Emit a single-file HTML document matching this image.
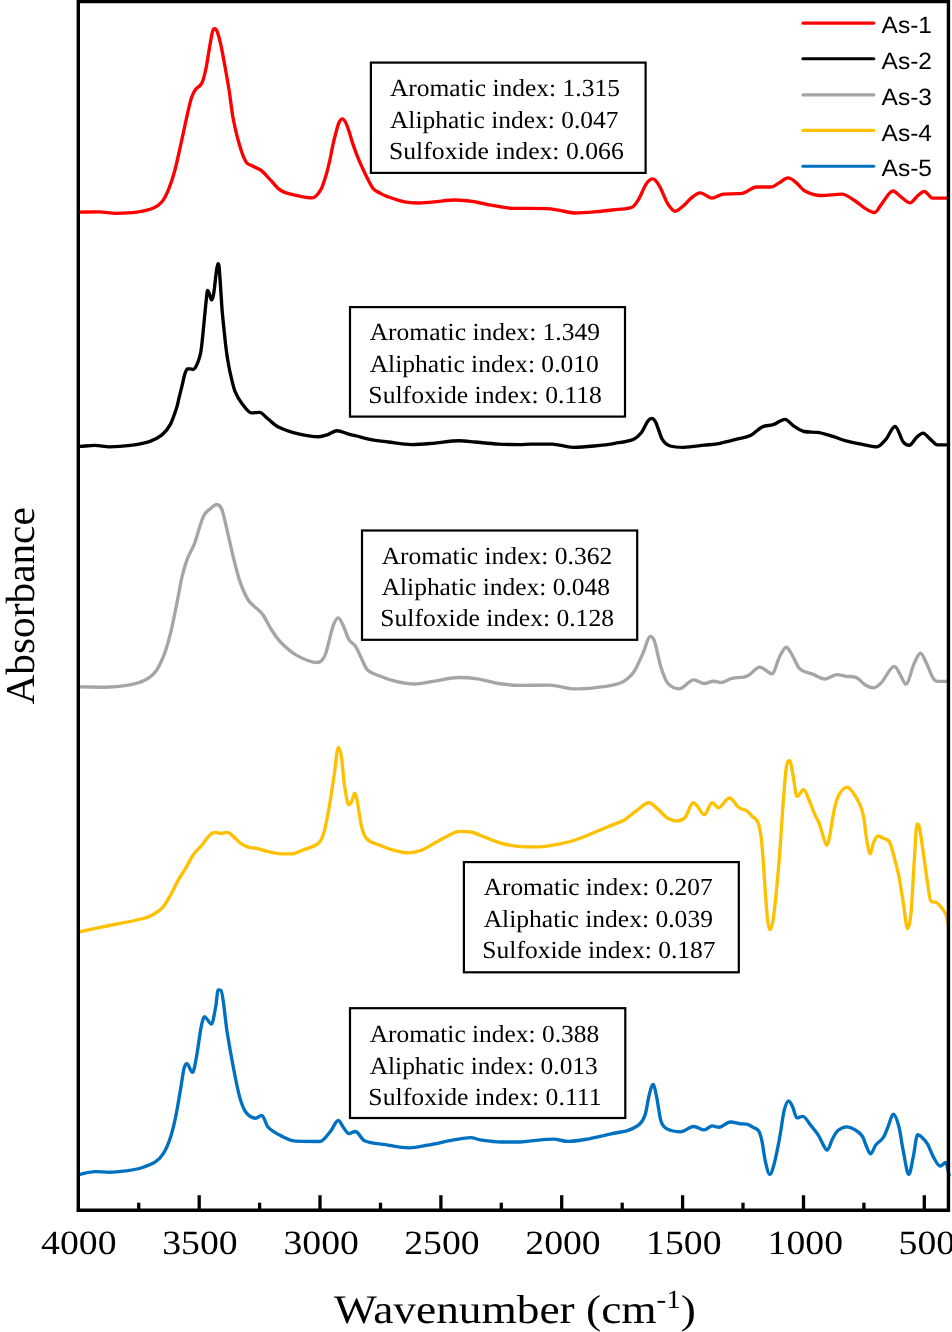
<!DOCTYPE html>
<html><head><meta charset="utf-8"><style>
html,body{margin:0;padding:0;background:#fff;}
body{width:952px;height:1332px;overflow:hidden;}
svg{display:block;will-change:transform;text-rendering:geometricPrecision;}
.serif{font-family:"Liberation Serif",serif;}
.sans{font-family:"Liberation Sans",sans-serif;}
</style></head><body>
<svg width="952" height="1332" viewBox="0 0 952 1332">
<rect width="952" height="1332" fill="#fff"/>
<g fill="none" stroke-width="3.35" stroke-linejoin="round" stroke-linecap="round">
<path d="M80.1 212.2C86.4 212.1 92.7 211.8 99 211.8C104.6 211.8 110.2 213.3 115.8 213.3C122.8 213.3 129.8 213.2 136.8 212.2C142.4 211.4 148 210.3 153.6 208C156.4 206.8 159.2 205.1 162 201.7C164.1 199.2 166.2 195.3 168.3 190.2C170.4 185.1 172.5 179 174.6 171.3C176.7 163.6 178.8 153.4 180.9 144C183 134.5 185.2 123.8 187.3 114.5C188.7 108.4 190.1 101.9 191.5 97.7C192.9 93.5 194.3 91.3 195.7 89.3C197.3 87.1 198.8 87.1 200.4 85.1C201.3 84 202.2 82.7 203.1 79.9C204.1 76.7 205.2 72.5 206.2 67.3C207.3 62 208.3 54.4 209.4 48.4C210.4 42.5 211.5 35.5 212.5 31.6C213.2 28.9 213.9 28.6 214.6 28.6C215.5 28.6 216.3 29.3 217.2 31.6C218.4 34.8 219.7 39.6 220.9 45.2C222.3 51.5 223.7 59.6 225.1 67.3C226.5 75 227.9 82.5 229.3 91.4C230.5 99.3 231.8 111.3 233 117.7C235.3 129.5 237.5 138.3 239.8 146C241.9 153 243.9 158.5 246 161.8C248.1 165.2 250.3 164.8 252.4 166C255.2 167.6 258 168.1 260.8 170.2C263.6 172.3 266.4 175.7 269.2 178.6C273 182.4 276.7 188 280.5 190.3C286.1 193.7 291.7 194.3 297.3 195.6C302.3 196.8 307.2 197.9 312.2 197.9C315.1 197.9 318.1 194.3 321 189.4C322.7 186.5 324.5 180.4 326.2 174.7C327.4 170.6 328.7 165.5 329.9 160C330.9 155.7 331.8 149.7 332.8 145.3C333.8 140.9 334.7 137.1 335.7 133.5C336.8 129.5 337.9 124.9 339 122.5C340.1 120 341.3 118.8 342.4 118.8C343.4 118.8 344.3 120 345.3 121.8C346.5 124.1 347.8 127.7 349 131.3C350.2 134.8 351.4 139.5 352.6 143.1C354.1 147.6 355.6 151.8 357.1 155.6C358.6 159.4 360 162.7 361.5 165.9C363.5 170.3 365.4 174.6 367.4 178.4C369.3 182.2 371.3 186.4 373.2 188.7C375.5 191.3 377.7 191.9 380 193.1C382.5 194.5 385.1 195.7 387.6 196.6C393.2 198.6 398.9 200.7 404.5 201.9C408.7 202.8 412.8 203 417 203C422.6 203 428.3 202.3 433.9 201.9C440.9 201.3 447.9 200 454.9 200C461.9 200 468.8 201 475.8 202C481 202.7 486.3 204.3 491.5 205.2C498.5 206.4 505.5 208.2 512.5 208.3C523.9 208.5 535.3 208.4 546.7 208.6C551.1 208.7 555.4 209.7 559.8 210.4C565 211.2 570.3 213 575.5 213C582.5 213 589.6 212.3 596.6 211.7C603.6 211.1 610.6 210.2 617.6 209.4C622.4 208.9 627.2 209.3 632 207.3C634.2 206.4 636.4 203 638.6 199.4C641.2 195.1 643.8 187.3 646.4 183.6C648.6 180.5 650.8 178.9 653 178.9C655.2 178.9 657.4 182.6 659.6 186.3C662.2 190.7 664.9 199.1 667.5 203.3C670.1 207.4 672.7 211.2 675.3 211.2C677.9 211.2 680.6 208.2 683.2 206C685.8 203.8 688.5 200.1 691.1 198.1C694.2 195.7 697.2 192.8 700.3 192.8C704.1 192.8 708 198.1 711.8 198.1C715.7 198.1 719.7 194.4 723.6 194.1C729.7 193.7 735.9 194 742 193.4C746.8 193 751.7 187 756.5 187C761.3 187 766.1 187 770.9 187C773.5 187 776.2 184.5 778.8 183.1C781.9 181.5 784.9 177.9 788 177.9C790.6 177.9 793.3 180.3 795.9 182.3C798.9 184.6 802 189.4 805 191C810.3 193.8 815.5 195.5 820.8 195.5C827.8 195.5 834.8 194.1 841.8 194.1C846.2 194.1 850.5 198 854.9 200.7C858.4 202.9 861.9 206.5 865.4 208.6C868.5 210.4 871.5 212.5 874.6 212.5C876.8 212.5 879 207.2 881.2 204.6C885.1 200 889.1 191 893 191C895.6 191 898.3 195 900.9 196.8C904 198.9 907 202.8 910.1 202.8C912.7 202.8 915.4 197.6 918 195.5C920.2 193.8 922.3 191.5 924.5 191.5C927.1 191.5 929.8 198.1 932.4 198.1C937.7 198.1 942.9 198.1 948.2 198.1" stroke="#FF0000"/>
<path d="M80.1 446.4C85 446.1 89.9 445.4 94.8 445.4C99.7 445.4 104.6 446.8 109.5 446.8C116.5 446.8 123.5 446.3 130.5 445.4C136.8 444.6 143.1 443.7 149.4 441.6C153.6 440.2 157.8 438.3 162 434.9C164.8 432.6 167.6 429.6 170.4 424.4C172.5 420.5 174.6 414 176.7 407.6C177.4 405.5 178.1 401.7 178.8 398.8C180 393.7 181.3 388.9 182.5 383.8C183.3 380.6 184 376.4 184.8 374.1C185.7 371.4 186.5 368.8 187.4 368.8C188.3 368.8 189.1 368.8 190 368.8C191 368.8 192 369.5 193 369.5C194 369.5 195 368.2 196 366.5C197 364.8 198 362.1 199 359C199.6 357.1 200.3 355.1 200.9 351.5C201.3 349.1 201.8 344.9 202.2 341C202.7 336.4 203.2 331.1 203.7 326C204.5 317.5 205.4 308 206.2 300.4C206.7 296.1 207.1 290.4 207.6 290.4C208.2 290.4 208.8 292.6 209.4 294.1C210.1 295.8 210.8 299.9 211.5 299.9C212.2 299.9 212.9 298.1 213.6 294.1C214.5 289.2 215.3 279.4 216.2 273.1C216.7 269.2 217.3 263.7 217.8 263.7C218.1 263.7 218.5 263.7 218.8 264.7C219.3 266.1 219.7 275.1 220.2 281.5C220.8 289.8 221.4 301 222 308.8C222.5 315.7 223.1 320.4 223.6 325.6C224.5 334 225.3 342.7 226.2 349.5C227 355.8 227.8 360.6 228.6 365C229.6 370.3 230.5 374.6 231.5 378.6C232.7 383.4 233.8 388.5 235 391.3C237.3 396.8 239.6 400.4 241.9 403.4C245 407.5 248.2 412.8 251.3 412.8C254.1 412.8 256.9 412.4 259.7 412.4C262.2 412.4 264.6 416.1 267.1 418.1C270.7 420.9 274.3 424.9 277.9 426.8C284 430 290.2 431.8 296.3 433.3C303.7 435.1 311.2 436.7 318.6 436.7C321.7 436.7 324.7 435.6 327.8 434.6C330.9 433.6 333.9 430.7 337 430.7C340.9 430.7 344.9 433 348.8 434.1C351.4 434.8 354.1 435.3 356.7 436C361.1 437.1 365.4 438.6 369.8 439.4C375.9 440.6 382.1 441.2 388.2 442C396.1 443 403.9 444.6 411.8 444.6C418.8 444.6 425.8 443.9 432.8 443.3C441.6 442.6 450.3 440.7 459.1 440.7C464.3 440.7 469.6 441.5 474.8 442C482.7 442.7 490.6 443.6 498.5 444.1C505.5 444.5 512.5 444.6 519.5 444.6C523.3 444.6 527.2 444.1 531 444.1C538 444.1 545 444.1 552 444.1C559 444.1 566 447.3 573 447.3C580 447.3 587 446.7 594 446C601 445.3 608 444.5 615 443.3C621.1 442.3 627.3 441.8 633.4 439.4C636 438.3 638.7 436.1 641.3 432.8C643.5 430 645.7 424 647.9 421C649.2 419.2 650.5 418.4 651.8 418.4C653.1 418.4 654.4 419.7 655.7 422.3C657.9 426.7 660.1 435.8 662.3 439.4C664.9 443.7 667.6 445.2 670.2 446C674.6 447.3 678.9 447.3 683.3 447.3C690.3 447.3 697.3 446 704.3 445.2C709.6 444.6 714.8 444.3 720.1 443.3C725.3 442.3 730.6 440.8 735.8 439.4C740.9 438.1 745.9 437.7 751 435.3C754.7 433.5 758.4 428.7 762.1 426.9C765.8 425.1 769.4 425.9 773.1 424.7C777.1 423.4 781.2 419.4 785.2 419.4C787.8 419.4 790.3 423.7 792.9 425.4C796.6 427.8 800.3 430.8 804 431.5C808.4 432.3 812.8 431.9 817.2 432.4C822.4 432.9 827.5 434.9 832.7 436.4C837.1 437.7 841.5 439.6 845.9 440.8C851 442.2 856.2 443.1 861.3 444.1C866.5 445.1 871.6 446.8 876.8 446.8C879.7 446.8 882.7 443 885.6 439.7C888.8 436.2 891.9 426.5 895.1 426.5C897.8 426.5 900.5 438.4 903.2 441.9C905.3 444.6 907.3 445.2 909.4 445.2C911.8 445.2 914.1 439.6 916.5 437.5C918.7 435.6 920.9 433.1 923.1 433.1C925.3 433.1 927.5 436.8 929.7 438.6C932.3 440.7 934.8 444.8 937.4 444.8C940.4 444.8 943.3 444.8 946.3 444.8" stroke="#000000"/>
<path d="M80.1 686.8C88.5 686.9 96.9 687.2 105.3 687.2C113 687.2 120.7 686.5 128.4 685.1C134 684.1 139.6 682.7 145.2 679.9C148.7 678.2 152.2 676.2 155.7 671.5C158.5 667.8 161.3 661.9 164.1 654.7C166.2 649.3 168.3 642.1 170.4 633.7C172.5 625.3 174.6 614.5 176.7 604.2C178.5 595.5 180.2 584.5 182 576.9C183.7 569.5 185.5 563.7 187.2 559.1C189.7 552.5 192.1 549.7 194.6 543.3C196.3 538.8 198.1 531.7 199.8 526.5C201.2 522.2 202.7 517.4 204.1 515C206.2 511.5 208.3 510.4 210.4 508.7C212.5 506.9 214.6 504.5 216.7 504.5C218.4 504.5 220.2 505.4 221.9 509.7C223.7 514.1 225.4 523.3 227.2 530.7C229.3 539.4 231.4 549.6 233.5 558C235.6 566.4 237.7 575.1 239.8 581.1C242.6 589.1 245.4 595.5 248.2 600C251 604.5 253.8 605.6 256.6 608.4C258.7 610.5 260.8 611.7 262.9 614.7C265.7 618.7 268.5 625.2 271.3 629.5C274.4 634.3 277.4 638.9 280.5 642C285.8 647.4 291 652.2 296.3 655.1C303.3 659 310.3 662.5 317.3 662.5C319.9 662.5 322.5 661.1 325.1 655.1C327.7 649 330.4 633.7 333 626.3C334.8 621.3 336.5 617.9 338.3 617.9C340 617.9 341.8 622.8 343.5 626.3C345.3 629.9 347 636.5 348.8 639.4C351 643 353.1 642.9 355.3 646C357.1 648.6 358.8 653 360.6 656.5C362.8 660.9 365 667.4 367.2 669.6C371.6 674 375.9 674.4 380.3 676.2C385.5 678.3 390.8 680.2 396 681.4C402.1 682.8 408.3 684 414.4 684C420.5 684 426.7 682.3 432.8 681.4C441.6 680.1 450.3 677.5 459.1 677.5C465.2 677.5 471.4 677.9 477.5 678.8C484.5 679.9 491.5 682.4 498.5 683.5C505.5 684.6 512.5 685.3 519.5 685.3C529.5 685.3 539.4 685.1 549.4 685.1C557.3 685.1 565.1 688.8 573 688.8C580 688.8 587 688.7 594 687.8C602.8 686.7 611.5 686.4 620.3 683C624.7 681.3 629 678.2 633.4 672.5C636.5 668.5 639.5 660.6 642.6 654.1C645.2 648.5 647.9 636.3 650.5 636.3C651.8 636.3 653.1 637.2 654.4 641C656.6 647.5 658.8 660.3 661 667.3C663.2 674.3 665.4 680.4 667.6 683C671.5 687.6 675.5 688.8 679.4 688.8C684.2 688.8 689 679.9 693.8 679.9C697.3 679.9 700.8 683.5 704.3 683.5C707.4 683.5 710.4 681.2 713.5 681.2C716.1 681.2 718.8 682.5 721.4 682.5C724.9 682.5 728.4 679.1 731.9 678.3C735.8 677.4 739.8 677.9 743.7 677.2C745.4 676.9 747.1 676.3 748.8 675.2C752.5 672.9 756.2 667.1 759.9 667.1C763.9 667.1 768 673.7 772 673.7C774.6 673.7 777.1 661.3 779.7 656.5C781.9 652.4 784.1 647.2 786.3 647.2C788.1 647.2 790 651.4 791.8 654.3C794.4 658.5 797 666.1 799.6 668.6C804 672.7 808.4 672.3 812.8 674.1C816.8 675.8 820.9 679 824.9 679C829 679 833 674.6 837.1 674.6C840 674.6 843 676 845.9 676.3C849.2 676.6 852.5 676.4 855.8 677.4C859.1 678.4 862.4 683.3 865.7 685.2C868.3 686.7 870.9 687.8 873.5 687.8C876.1 687.8 878.6 685.5 881.2 682.9C885.6 678.4 890 666.4 894.4 666.4C896.6 666.4 898.8 672.9 901 676.3C902.6 678.8 904.3 684 905.9 684C908.7 684 911.5 669 914.3 663.1C916.4 658.7 918.4 653.2 920.5 653.2C922.5 653.2 924.4 659.3 926.4 663.1C929 668.1 931.5 676.5 934.1 679.6C935.6 681.4 937 681.4 938.5 681.4C941.5 681.4 944.4 681.4 947.4 681.4" stroke="#A5A5A5"/>
<path d="M80.1 931.6C86.4 930.3 92.7 928.9 99 927.6C106 926.2 113 924.8 120 923.4C127 922 134 920.8 141 919C144.5 918.1 148 917.2 151.5 915.4C155 913.6 158.5 911.8 162 908.1C164.8 905.2 167.6 900.3 170.4 895.5C172.9 891.2 175.3 885.2 177.8 880.8C180.2 876.4 182.7 873.3 185.1 869.2C187.9 864.5 190.7 858.5 193.5 854.5C196.3 850.4 199.2 848.4 202 845C204.4 842.1 206.9 838 209.3 835.6C211.1 833.8 212.8 832.4 214.6 832.4C216.7 832.4 218.8 833.5 220.9 833.5C223 833.5 225.1 832.4 227.2 832.4C229.3 832.4 231.4 834.9 233.5 836.6C235.9 838.6 238.4 841.7 240.8 843.4C243.3 845.2 245.7 846.3 248.2 847.1C251 848 253.8 847.8 256.6 848.4C260.1 849.2 263.6 850.5 267.1 851.3C271.6 852.3 276 853.9 280.5 853.9C284 853.9 287.5 853.9 291 853.9C295.2 853.9 299.4 851.3 303.6 849.7C308.5 847.8 313.4 847.4 318.3 843.4C320.1 842 321.8 839.2 323.6 833.5C325.3 827.9 327.1 818.8 328.8 809.3C330.6 799.6 332.3 787.2 334.1 775.7C335.5 766.6 336.9 747.4 338.3 747.4C339.3 747.4 340.4 750.4 341.4 756.8C342.5 763.4 343.5 779.3 344.6 786.2C346 795.3 347.4 804.7 348.8 804.7C349.8 804.7 350.9 802.9 351.9 800.9C352.8 799.1 353.8 793.2 354.7 793.2C355.5 793.2 356.4 796.8 357.2 800.9C358.6 807.8 360 820.5 361.4 826.1C363.1 833.1 364.9 836.9 366.6 838.7C370.8 843.2 375 843.2 379.2 845C384.1 847.1 389.1 849 394 850.3C398.9 851.6 403.8 852.8 408.7 852.8C412.9 852.8 417.1 851.9 421.3 850.3C426.2 848.4 431.1 844.9 436 842.3C440.2 840 444.4 837.6 448.6 835.6C452.1 833.9 455.6 831.4 459.1 831.4C463.1 831.4 467 831.4 471 832C475.7 832.7 480.5 835.7 485.2 837.4C491.5 839.7 497.8 842.6 504.1 844C511.5 845.7 518.8 846.8 526.2 846.8C530.4 846.8 534.6 846.8 538.8 846.8C544 846.8 549.3 845.9 554.5 844.9C560.8 843.8 567.2 842.5 573.5 840.5C580.8 838.2 588.2 834.9 595.5 832C601.8 829.5 608.1 826.7 614.4 824.1C617.6 822.8 620.7 822.2 623.9 820.3C628.1 817.7 632.3 813.5 636.5 810.6C640.7 807.7 644.9 802.7 649.1 802.7C651.7 802.7 654.4 806.2 657 808.4C660.7 811.4 664.3 816.1 668 818.4C671.2 820.3 674.3 821 677.5 821C680.1 821 682.7 820.2 685.3 817.2C687.9 814.1 690.6 802.7 693.2 802.7C694.8 802.7 696.3 805.1 697.9 806.8C700 809.1 702.1 814.7 704.2 814.7C706.8 814.7 709.5 802.7 712.1 802.7C714.2 802.7 716.3 807.7 718.4 807.7C722.1 807.7 725.8 798 729.5 798C732.6 798 735.8 805.4 738.9 807.7C741.5 809.6 744 809 746.6 810.7C748.4 811.9 750.3 814.4 752.1 816.2C753.9 818 755.8 817.6 757.6 821.7C758.7 824.2 759.9 828.2 761 836C761.7 841.1 762.5 850.7 763.2 860.3C763.9 869.9 764.7 883.5 765.4 893.4C766.1 903.3 766.9 913.8 767.6 919.9C768.3 925.9 769.1 929.7 769.8 929.7C770.9 929.7 772 926.3 773.1 919.9C774.2 913.5 775.3 902.2 776.4 891.2C777.5 880.2 778.6 868 779.7 853.7C780.8 839.4 781.9 819.6 783 805.2C784.1 790.9 785.2 774.6 786.3 767.6C787.4 760.6 788.5 760.6 789.6 760.6C790.7 760.6 791.8 768.9 792.9 774.3C794.2 780.8 795.6 796.3 796.9 796.3C797.9 796.3 799 794.8 800 793.7C801.2 792.5 802.3 789.3 803.5 789.3C805.1 789.3 806.8 794.8 808.4 798.5C810.6 803.4 812.8 810 815 815.1C816.5 818.5 817.9 820.1 819.4 823.9C820.7 827.4 822.1 833.2 823.4 837.1C824.5 840.3 825.6 845.3 826.7 845.3C827.6 845.3 828.4 842.3 829.3 838.2C830.8 831.1 832.3 818.9 833.8 811.8C835.3 804.9 836.7 799 838.2 796.3C841.1 790.8 844.1 787.1 847 787.1C848.8 787.1 850.7 789.5 852.5 791.9C854.7 794.8 856.9 798 859.1 802.9C860.6 806.1 862 809.1 863.5 816.2C864.6 821.6 865.7 834.2 866.8 840.4C867.9 846.7 869.1 853.7 870.2 853.7C871.3 853.7 872.4 845.2 873.5 842.7C875 839.3 876.4 836 877.9 836C879.7 836 881.6 837.2 883.4 838.2C885.5 839.3 887.5 838.5 889.6 842.2C891.2 845.1 892.8 852.3 894.4 858.1C895.9 863.4 897.3 868.4 898.8 875.7C900.3 883.1 901.7 893.5 903.2 902.2C904.7 911.1 906.2 928.7 907.7 928.7C908.8 928.7 909.9 924.6 911 913.2C912.1 901.8 913.2 876.4 914.3 860.3C915.2 846.6 916.2 823.8 917.1 823.8C917.8 823.8 918.4 823.8 919.1 826.3C920.4 831.3 921.8 842.6 923.1 851.5C924.6 861.3 926 873 927.5 882.4C928.6 889.5 929.7 900.3 930.8 901.1C932.3 902.2 933.7 902 935.2 902.2C937 902.5 938.9 904.4 940.7 906.6C942.6 908.8 944.4 910.7 946.3 915.5C947 917.4 947.8 922.8 948.5 926.5" stroke="#FFC000"/>
<path d="M80.1 1174.3C85 1173.4 89.9 1171.6 94.8 1171.6C99.7 1171.6 104.6 1172.2 109.5 1172.2C115.1 1172.2 120.7 1171.5 126.3 1170.8C131.2 1170.1 136.1 1169.5 141 1168C145.9 1166.5 150.8 1165 155.7 1161.7C158.5 1159.8 161.3 1156.9 164.1 1152.3C166.2 1148.9 168.3 1144.1 170.4 1137.6C172.2 1132.2 173.9 1125.1 175.7 1116.6C177.4 1108.3 179.2 1097.1 180.9 1087.1C182 1081 183 1072.4 184.1 1068.2C185 1064.6 185.9 1063.6 186.8 1063.6C188.7 1063.6 190.6 1072.4 192.5 1072.4C193.9 1072.4 195.3 1062.9 196.7 1055.6C198.1 1048.2 199.5 1035.3 200.9 1028.3C202.1 1022.3 203.3 1016.8 204.5 1016.8C206.8 1016.8 209.1 1024.1 211.4 1024.1C212.8 1024.1 214.2 1014.4 215.6 1007.3C216.5 1002.9 217.3 989.8 218.2 989.8C219.1 989.8 220.1 989.8 221 990.6C223.1 992.4 225.1 1019.7 227.2 1032.5C229.3 1045.5 231.4 1057.4 233.5 1068.2C235.6 1079 237.7 1090.2 239.8 1097.6C241.9 1104.9 243.9 1109.7 246 1112.4C249.2 1116.6 252.3 1118.2 255.5 1118.2C257.6 1118.2 259.7 1115.5 261.8 1115.5C263.9 1115.5 266 1124.9 268.1 1127.1C272.2 1131.5 276.4 1133.4 280.5 1135.5C285.8 1138.1 291 1141 296.3 1141.2C304.2 1141.5 312 1141.5 319.9 1141.5C323.4 1141.5 326.9 1135.5 330.4 1131.5C333 1128.5 335.7 1120.5 338.3 1120.5C340 1120.5 341.8 1125.4 343.5 1127.6C345.3 1129.8 347 1133.6 348.8 1133.6C351 1133.6 353.1 1131.5 355.3 1131.5C358.4 1131.5 361.4 1139.4 364.5 1140.7C371.5 1143.7 378.5 1143.5 385.5 1144.6C393.4 1145.9 401.3 1147.8 409.2 1147.8C415.3 1147.8 421.5 1146.3 427.6 1145.2C436.3 1143.7 445.1 1141.4 453.8 1139.9C459.5 1138.9 465.2 1137.6 470.9 1137.6C474 1137.6 477 1139.5 480.1 1139.9C487.1 1140.9 494.1 1142 501.1 1142C507.2 1142 513.4 1142 519.5 1142C523.3 1142 527.2 1141.2 531 1140.9C538.4 1140.3 545.9 1139.1 553.3 1139.1C558.1 1139.1 563 1141.4 567.8 1141.4C574.8 1141.4 581.8 1140 588.8 1138.8C597.5 1137.2 606.3 1134.9 615 1133C619.4 1132.1 623.8 1132 628.2 1130.4C632.1 1129 636.1 1127.5 640 1123.8C641.7 1122.2 643.5 1120 645.2 1114.6C646.5 1110.4 647.9 1100 649.2 1094.9C650.5 1089.9 651.8 1084.4 653.1 1084.4C654.2 1084.4 655.4 1091 656.5 1096.3C658 1103.3 659.5 1116.8 661 1121.2C663.2 1127.7 665.4 1127.9 667.6 1129.1C672 1131.4 676.3 1131.7 680.7 1131.7C685.1 1131.7 689.4 1126.5 693.8 1126.5C697.3 1126.5 700.8 1129.9 704.3 1129.9C706.9 1129.9 709.6 1125.9 712.2 1125.9C714.4 1125.9 716.6 1127.2 718.8 1127.2C722.7 1127.2 726.7 1122 730.6 1122C734.1 1122 737.6 1123.6 741.1 1123.8C742.9 1123.9 744.8 1123.8 746.6 1124.1C748.8 1124.4 751 1126.1 753.2 1127.4C755.1 1128.5 756.9 1128.2 758.8 1131.2C759.9 1133 761 1136.7 762.1 1141.8C763.2 1146.9 764.3 1156.9 765.4 1161.6C766.9 1167.8 768.3 1174.4 769.8 1174.4C771.3 1174.4 772.7 1169.3 774.2 1163.8C776 1156.9 777.9 1147.2 779.7 1137.4C781.2 1129.6 782.6 1117 784.1 1110.9C785.6 1104.8 787 1101 788.5 1101C789.8 1101 791.2 1103.8 792.5 1106.5C794 1109.5 795.4 1117.9 796.9 1117.9C798.9 1117.9 800.9 1116.4 802.9 1116.4C805.5 1116.4 808 1122.1 810.6 1125.2C813.2 1128.3 815.7 1131.2 818.3 1135.2C820 1137.8 821.7 1142.2 823.4 1145.1C824.6 1147.2 825.9 1150.2 827.1 1150.2C829 1150.2 830.8 1141.8 832.7 1138.5C834.5 1135.2 836.4 1131.8 838.2 1130.3C841.1 1127.9 844.1 1126.8 847 1126.8C849.6 1126.8 852.1 1128 854.7 1129.6C857.3 1131.2 859.8 1132.5 862.4 1136.3C863.9 1138.4 865.3 1144.2 866.8 1147.3C868.1 1150 869.3 1153.9 870.6 1153.9C872.3 1153.9 874 1147.3 875.7 1145.1C878.3 1141.8 880.8 1141.3 883.4 1137.4C885 1135 886.6 1130 888.2 1126.3C889.9 1122.3 891.6 1114.2 893.3 1114.2C895.1 1114.2 897 1119.6 898.8 1126.3C900.3 1131.7 901.7 1143.5 903.2 1150.6C905.1 1159.6 906.9 1174.4 908.8 1174.4C910.3 1174.4 911.7 1163.8 913.2 1157.2C914.7 1150.6 916.1 1134.7 917.6 1134.7C919.1 1134.7 920.5 1136 922 1137.4C923.8 1139.1 925.7 1140.8 927.5 1144C929.5 1147.4 931.5 1153.7 933.5 1157.2C935.7 1161.1 938 1166 940.2 1166C942.1 1166 943.9 1162.5 945.8 1162.5C946.9 1162.5 947.9 1170.8 949 1175" stroke="#0070C0"/>
</g>
<g stroke="#000" stroke-width="3.3"><line x1="138.7" y1="1202.7" x2="138.7" y2="1210.2"/><line x1="199.2" y1="1195.2" x2="199.2" y2="1210.2"/><line x1="259.6" y1="1202.7" x2="259.6" y2="1210.2"/><line x1="320" y1="1195.2" x2="320" y2="1210.2"/><line x1="380.5" y1="1202.7" x2="380.5" y2="1210.2"/><line x1="440.9" y1="1195.2" x2="440.9" y2="1210.2"/><line x1="501.3" y1="1202.7" x2="501.3" y2="1210.2"/><line x1="561.7" y1="1195.2" x2="561.7" y2="1210.2"/><line x1="622.2" y1="1202.7" x2="622.2" y2="1210.2"/><line x1="682.6" y1="1195.2" x2="682.6" y2="1210.2"/><line x1="743" y1="1202.7" x2="743" y2="1210.2"/><line x1="803.5" y1="1195.2" x2="803.5" y2="1210.2"/><line x1="863.9" y1="1202.7" x2="863.9" y2="1210.2"/><line x1="924.3" y1="1195.2" x2="924.3" y2="1210.2"/></g>
<g class="sans" font-size="23.5" fill="#000" stroke-width="3.1" stroke-linecap="round"><line x1="802.9" y1="23.1" x2="873.8" y2="23.1" stroke="#FF0000"/><text transform="translate(881.5 33.3) scale(1.045 1)">As-1</text><line x1="802.9" y1="58.7" x2="873.8" y2="58.7" stroke="#000000"/><text transform="translate(881.5 68.9) scale(1.045 1)">As-2</text><line x1="802.9" y1="94.9" x2="873.8" y2="94.9" stroke="#A5A5A5"/><text transform="translate(881.5 105.1) scale(1.045 1)">As-3</text><line x1="802.9" y1="130.4" x2="873.8" y2="130.4" stroke="#FFC000"/><text transform="translate(881.5 140.6) scale(1.045 1)">As-4</text><line x1="802.9" y1="166.2" x2="873.8" y2="166.2" stroke="#0070C0"/><text transform="translate(881.5 176.4) scale(1.045 1)">As-5</text></g>
<g class="serif" font-size="24.6" fill="#000"><rect x="370.9" y="62.6" width="274.7" height="110.3" fill="#fff" stroke="#000" stroke-width="2.2"/><text x="389.95" y="95.8" textLength="229.94" lengthAdjust="spacingAndGlyphs">Aromatic index: 1.315</text><text x="389.95" y="127.7" textLength="228.58" lengthAdjust="spacingAndGlyphs">Aliphatic index: 0.047</text><text x="388.98" y="158.5" textLength="234.78" lengthAdjust="spacingAndGlyphs">Sulfoxide index: 0.066</text><rect x="350" y="307.1" width="275" height="109.5" fill="#fff" stroke="#000" stroke-width="2.2"/><text x="369.65" y="339.8" textLength="230.40" lengthAdjust="spacingAndGlyphs">Aromatic index: 1.349</text><text x="369.65" y="371.9" textLength="229.22" lengthAdjust="spacingAndGlyphs">Aliphatic index: 0.010</text><text x="368.39" y="402.6" textLength="233.58" lengthAdjust="spacingAndGlyphs">Sulfoxide index: 0.118</text><rect x="362" y="530.5" width="275.2" height="109.3" fill="#fff" stroke="#000" stroke-width="2.2"/><text x="381.65" y="563.6" textLength="230.56" lengthAdjust="spacingAndGlyphs">Aromatic index: 0.362</text><text x="381.65" y="594.9" textLength="228.32" lengthAdjust="spacingAndGlyphs">Aliphatic index: 0.048</text><text x="380.39" y="626.3" textLength="233.58" lengthAdjust="spacingAndGlyphs">Sulfoxide index: 0.128</text><rect x="463.9" y="862.1" width="274.9" height="110.2" fill="#fff" stroke="#000" stroke-width="2.2"/><text x="483.65" y="895.4" textLength="228.98" lengthAdjust="spacingAndGlyphs">Aromatic index: 0.207</text><text x="483.65" y="927" textLength="229.30" lengthAdjust="spacingAndGlyphs">Aliphatic index: 0.039</text><text x="482.39" y="957.7" textLength="233.24" lengthAdjust="spacingAndGlyphs">Sulfoxide index: 0.187</text><rect x="350" y="1008.2" width="275.3" height="109.8" fill="#fff" stroke="#000" stroke-width="2.2"/><text x="369.65" y="1041.9" textLength="229.52" lengthAdjust="spacingAndGlyphs">Aromatic index: 0.388</text><text x="369.65" y="1073.8" textLength="228.14" lengthAdjust="spacingAndGlyphs">Aliphatic index: 0.013</text><text x="368.39" y="1105.1" textLength="233.24" lengthAdjust="spacingAndGlyphs">Sulfoxide index: 0.111</text></g>
<g class="serif" font-size="34" fill="#000"><text transform="translate(78.8 1253.6) scale(1.11 1)" text-anchor="middle">4000</text><text transform="translate(199.9 1253.6) scale(1.11 1)" text-anchor="middle">3500</text><text transform="translate(321.2 1253.6) scale(1.11 1)" text-anchor="middle">3000</text><text transform="translate(441.9 1253.6) scale(1.11 1)" text-anchor="middle">2500</text><text transform="translate(563 1253.6) scale(1.11 1)" text-anchor="middle">2000</text><text transform="translate(683.8 1253.6) scale(1.11 1)" text-anchor="middle">1500</text><text transform="translate(805.3 1253.6) scale(1.11 1)" text-anchor="middle">1000</text><text transform="translate(926.9 1253.6) scale(1.11 1)" text-anchor="middle">500</text></g>
<path d="M78.3 1210.2V1.6H948.45V1210.2H76.5" fill="none" stroke="#000" stroke-width="3.4" stroke-linejoin="miter"/>
<text class="serif" font-size="40.5" transform="translate(334 1323) scale(1.12 1)">Wavenumber (cm<tspan font-size="26" dy="-15">-1</tspan><tspan dy="15">)</tspan></text>
<text class="serif" font-size="40.5" transform="translate(33.5 704.5) rotate(-90) scale(1.02 1.01)" x="0" y="0">Absorbance</text>
</svg>
</body></html>
